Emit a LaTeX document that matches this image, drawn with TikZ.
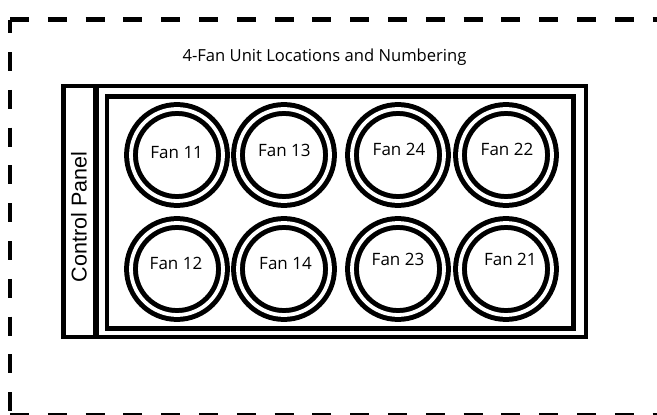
\documentclass[tikz,border=0pt]{standalone}
\usepackage{fontspec}
\newfontfamily\labelfont{Open Sans}
\newfontfamily\panelfont{Liberation Sans}
\tikzset{
  frameline/.style={line width=4.5pt, dash pattern=on 19pt off 18.8pt},
  boxline/.style={draw, line width=4.5pt, inner sep=0pt, outer sep=0pt},
  fanring/.style={circle, draw, line width=5pt, double=white, double distance=3.8pt,
                  inner sep=0pt, minimum size=92pt},
  fanlabel/.style={font=\labelfont\fontsize{17}{20}\selectfont, anchor=base, inner sep=0pt},
}
\begin{document}
\begin{tikzpicture}[x=1pt,y=-1pt]
\useasboundingbox (0,0) rectangle (657,415);
\clip (0,0) rectangle (657,415);
\fill[white] (0,0) rectangle (657,415);
% dashed frame
\coordinate (tl) at (10,19.5);
\coordinate (tr) at (660,19.5);
\coordinate (bl) at (10,415.5);
\coordinate (br) at (660,415.5);
\coordinate (rt) at (660,19.5);
\coordinate (rb) at (660,415.5);
\draw[frameline] (tl) -- (tr);
\draw[frameline] (bl) -- (br);
\draw[frameline, dash phase=5.3pt] (tl) -- (bl);
\draw[frameline, dash phase=5.3pt] (rt) -- (rb);
% title
\node[font=\labelfont\fontsize{16.6}{20}\selectfont, anchor=base, inner sep=0pt] (title) at (324.5,61) {4-Fan Unit Locations and Numbering};
% control panel
\node[boxline, minimum width=31.5pt, minimum height=251.4pt] (cp) at (79.25,211.5) {};
\node[rotate=90, anchor=base, inner sep=0pt, font=\panelfont\fontsize{21.5}{24}\selectfont] (cptext) at (86.5,217) {Control Panel};
% fan housing
\node[boxline, minimum width=488.8pt, minimum height=251.4pt] (housing) at (341.4,211.5) {};
\node[boxline, minimum width=466.7pt, minimum height=232.2pt] (inner) at (340.35,212.4) {};
% fans
\node[fanring] (f11) at (177,155) {};
\node[fanring] (f13) at (284,155) {};
\node[fanring] (f24) at (398,155) {};
\node[fanring] (f22) at (506,155) {};
\node[fanring] (f12) at (177,269) {};
\node[fanring] (f14) at (284,269) {};
\node[fanring] (f23) at (398,269) {};
\node[fanring] (f21) at (506,269) {};
\node[fanlabel] (t11) at (176.7,158.3) {Fan 11};
\node[fanlabel] (t13) at (284.3,156.7) {Fan 13};
\node[fanlabel] (t24) at (399,155) {Fan 24};
\node[fanlabel] (t22) at (507,155) {Fan 22};
\node[fanlabel] (t12) at (176,269) {Fan 12};
\node[fanlabel] (t14) at (285.5,269) {Fan 14};
\node[fanlabel] (t23) at (398,265) {Fan 23};
\node[fanlabel] (t21) at (510.3,265) {Fan 21};
\end{tikzpicture}
\end{document}
